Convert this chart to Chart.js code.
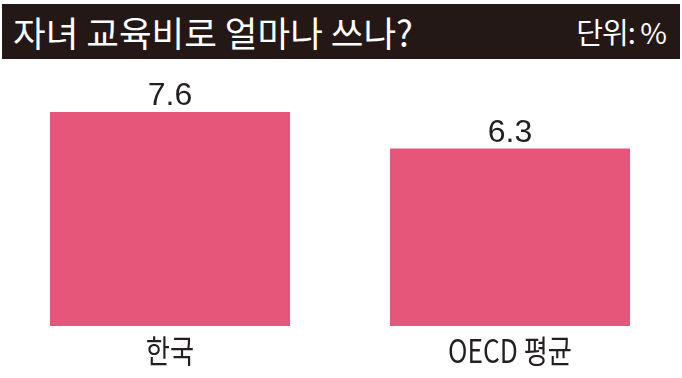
<!DOCTYPE html>
<html>
<head>
<meta charset="utf-8">
<script src="https://cdn.jsdelivr.net/npm/chart.js@4"></script>
<style>
  html, body { margin: 0; padding: 0; background: #fff; }
  #wrap { position: relative; width: 682px; height: 378px; overflow: hidden; }
  #header {
    position: absolute; left: 2px; top: 4px; width: 678px; height: 55px;
    background: #231815; color: #fff;
    font-family: "Noto Sans CJK KR", "Noto Sans", sans-serif;
  }
  #title { position: absolute; left: 11px; top: 6px; font-size: 35.5px; line-height: 44px; white-space: nowrap; }
  #unit { position: absolute; right: 14px; top: 9px; font-size: 29px; line-height: 36px; letter-spacing: -1px; white-space: nowrap; }
  canvas { position: absolute; left: 0; top: 0; }
</style>
</head>
<body>
<div id="wrap">
  <canvas id="chart" width="682" height="378"></canvas>
  <div id="header">
    <div id="title">자녀 교육비로 얼마나 쓰나?</div>
    <div id="unit">단위: %</div>
  </div>
</div>
<script>
document.addEventListener('DOMContentLoaded', () => {
    // Data
    const categories = ['한국', 'OECD 평균'];
    const values = [7.6, 6.3];
    const valueLabels = ['7.6', '6.3'];

    const barColor = '#E5567A';
    const textColor = '#231F20';

    // draws value above each bar and the category name below it
    const labelPlugin = {
        id: 'barLabels',
        afterDatasetsDraw(chart) {
            const ctx = chart.ctx;
            const area = chart.chartArea;
            const bars = chart.getDatasetMeta(0).data;
            ctx.save();
            ctx.fillStyle = textColor;
            ctx.textAlign = 'center';
            bars.forEach((bar, i) => {
                ctx.font = '32px "Liberation Sans", Arial, sans-serif';
                ctx.textBaseline = 'alphabetic';
                ctx.fillText(valueLabels[i], bar.x, bar.y - 7);

                // category names are in a narrow face in the original
                ctx.save();
                ctx.translate(bar.x, area.bottom + 25);
                ctx.scale(0.82, 1);
                ctx.font = '32px "Noto Sans CJK KR", sans-serif';
                ctx.textBaseline = 'middle';
                ctx.fillText(categories[i], 0, 0);
                ctx.restore();
            });
            ctx.restore();
        }
    };

    new Chart(document.getElementById('chart'), {
        type: 'bar',
        data: {
            labels: categories,
            datasets: [{
                data: values,
                backgroundColor: barColor,
                borderWidth: 0,
                categoryPercentage: 1,
                barPercentage: 0.706
            }]
        },
        options: {
            responsive: false,
            animation: false,
            layout: { padding: { top: 70, bottom: 52, left: 0, right: 2 } },
            scales: {
                x: { display: false },
                y: { display: false, min: 0, max: 9.09 }
            },
            plugins: {
                legend: { display: false },
                tooltip: { enabled: false }
            }
        },
        plugins: [labelPlugin]
    });
});
</script>
</body>
</html>
